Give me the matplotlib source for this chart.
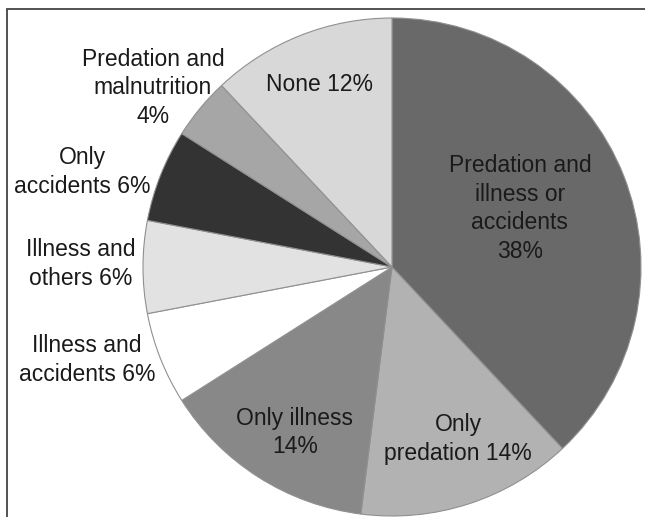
import matplotlib.pyplot as plt
import numpy as np
from matplotlib.patches import Rectangle

plt.rcParams['font.family'] = ['Liberation Sans', 'DejaVu Sans']

# slices, clockwise from 12 o'clock
labels = ['Predation and\nillness or\naccidents', 'Only\npredation', 'Only illness\n',
          'Illness and\naccidents', 'Illness and\nothers', 'Only\naccidents',
          'Predation and\nmalnutrition\n', 'None']
values = [38, 14, 14, 6, 6, 6, 4, 12]
colors = ['#696969', '#b2b2b2', '#888888', '#ffffff', '#e2e2e2', '#333333', '#a6a6a6', '#d8d8d8']

# label placement: (radius factor, angle nudge in degrees)
label_place = [(0.565, 3), (0.74, 3), (0.77, 2), (1.28, -4.6),
               (1.25, -0.6), (1.30, 4.5), (1.20, 2.7), (0.79, 0)]

W, H = 645, 517
fig = plt.figure(figsize=(W / 100, H / 100), dpi=100)
ax = fig.add_axes([0, 0, 1, 1])

cx, cy, r = 392, 250, 249
wedges, _ = ax.pie(values, colors=colors, startangle=90, counterclock=False,
                   center=(cx, cy), radius=r, frame=True,
                   wedgeprops=dict(edgecolor='#909090', linewidth=0.8))
ax.set_xlim(0, W)
ax.set_ylim(0, H)
ax.set_aspect('equal')
ax.axis('off')

for w, lab, v, (f, nudge) in zip(wedges, labels, values, label_place):
    ang = np.deg2rad((w.theta1 + w.theta2) / 2 + nudge)
    x = cx + f * r * np.cos(ang)
    y = cy + f * r * np.sin(ang)
    if lab.endswith('\n'):
        txt = lab + f'{v}%'
    elif lab.count('\n') >= 2:
        txt = lab + f'\n{v}%'
    else:
        txt = lab + f' {v}%'
    ax.text(x, y, txt, ha='center', va='center', fontsize=16.5,
            color='#1a1a1a', linespacing=1.31)

# frame around the chart area
ax.add_patch(Rectangle((7, -10), W + 20, H - 9 + 10, fill=False,
                       edgecolor='#444444', linewidth=1.3, clip_on=False))

fig.savefig('out.png', dpi=100)
